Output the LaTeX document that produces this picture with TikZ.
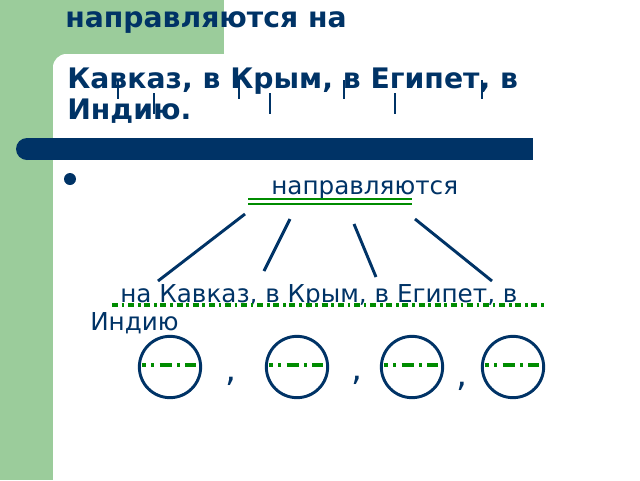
\documentclass[tikz,border=0pt]{standalone}
\usepackage{fontspec}
\setmainfont{DejaVu Sans}
\definecolor{slidegreen}{RGB}{155,204,155}
\definecolor{navy}{RGB}{0,51,102}
\definecolor{linegreen}{RGB}{0,140,0}
\begin{document}
\begin{tikzpicture}[x=0.75pt,y=-0.75pt,
  title/.style={anchor=base west,inner sep=0pt,navy,font=\fontsize{21.2}{24}\bfseries\selectfont},
  body/.style={anchor=base west,inner sep=0pt,navy,font=\fontsize{18.5}{22}\selectfont},
  sep/.style={anchor=base west,inner sep=0pt,navy,font=\fontsize{26}{30}\selectfont},
  branch/.style={navy,line width=2.2pt},
  tick/.style={navy,line width=1.8pt},
  dashdot/.style={linegreen,line width=2.5pt,dash pattern=on 4.5pt off 2.8pt on 2pt off 2.8pt},
  bigdashdot/.style={linegreen,line width=2.4pt,dash pattern=on 9pt off 4pt on 2.2pt off 4pt,dash phase=6pt},
  member/.style={circle,draw=navy,line width=2.2pt,minimum size=46pt,inner sep=0pt}]
\useasboundingbox (0,0) rectangle (640,480);
\fill[white] (0,0) rectangle (640,480);
\fill[slidegreen] (0,0) rectangle (224,80);
\fill[slidegreen] (0,0) rectangle (53,480);
\fill[white,rounded corners=10pt] (53,520) -- (53,54) -- (680,54) -- (680,520) -- cycle;

\node[title] (head1) at (65,27) {направляются на};
\node[title] (head2) at (67,88) {Кавказ, в Крым, в Египет, в};
\node[title] (head3) at (67,119) {Индию.};
\draw[tick] (118,80) -- (118,99) (239,80) -- (239,99) (344,80) -- (344,99) (482,80) -- (482,99);
\draw[tick] (154,93) -- (154,114) (270,93) -- (270,114) (395,93) -- (395,114);

\fill[navy] (27,138) rectangle (533,160);
\fill[navy] (27,149) circle (11);
\fill[navy] (70,179) circle (6);

\node[body] (verb) at (271,194) {направляются};
\draw[linegreen,line width=1.7pt] (248,199) -- (412,199) (248,204) -- (412,204);

\coordinate (top1) at (245,214);
\coordinate (top2) at (290,219);
\coordinate (top3) at (354,224);
\coordinate (top4) at (415,219);
\coordinate (end1) at (158,281);
\coordinate (end2) at (264,271);
\coordinate (end3) at (376,277);
\coordinate (end4) at (492,281);
\draw[branch] (top1) -- (end1);
\draw[branch] (top2) -- (end2);
\draw[branch] (top3) -- (end3);
\draw[branch] (top4) -- (end4);

\node[body] (places) at (120,302) {на Кавказ, в Крым, в Египет, в};
\node[body] (india) at (90,330) {Индию};
\draw[dashdot] (112,305) -- (545,305);

\node[member] (place1) at (170,367) {};
\node[member] (place2) at (297,367) {};
\node[member] (place3) at (412,367) {};
\node[member] (place4) at (513,367) {};
\draw[bigdashdot] (142,365) -- (196,365);
\draw[bigdashdot] (269,365) -- (323,365);
\draw[bigdashdot] (384,365) -- (438,365);
\draw[bigdashdot] (485,365) -- (539,365);
\node[sep] (comma1) at (225,381) {,};
\node[sep] (comma2) at (351,380) {,};
\node[sep] (comma3) at (456,386) {,};
\end{tikzpicture}
\end{document}
